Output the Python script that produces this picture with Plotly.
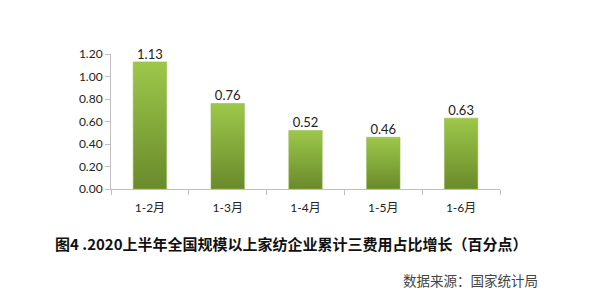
import plotly.graph_objects as go

categories = ["1-2月", "1-3月", "1-4月", "1-5月", "1-6月"]
values = [1.13, 0.76, 0.52, 0.46, 0.63]
value_labels = ["1.13", "0.76", "0.52", "0.46", "0.63"]
y_ticks = [0, 0.2, 0.4, 0.6, 0.8, 1.0, 1.2]
y_tick_labels = ["0.00", "0.20", "0.40", "0.60", "0.80", "1.00", "1.20"]

title_text = "图4 .2020上半年全国规模以上家纺企业累计三费用占比增长（百分点）"
source_text = "数据来源：国家统计局"

FONT = "Lato, 'Noto Sans CJK SC', sans-serif"
CJK = "'Noto Sans CJK SC', sans-serif"
BAR_W = 0.43

fig = go.Figure()
idx = list(range(len(categories)))
for i, v in zip(idx, values):
    fig.add_trace(go.Scatter(
        x=[i - BAR_W / 2, i + BAR_W / 2, i + BAR_W / 2, i - BAR_W / 2, i - BAR_W / 2],
        y=[0, 0, v, v, 0],
        mode="lines", line=dict(width=0.6, color="rgba(150,185,80,0.9)"),
        fill="toself",
        fillgradient=dict(type="vertical",
                          colorscale=[[0, "#6A8A2B"], [1, "#9CC84A"]]),
        hoverinfo="skip", showlegend=False,
    ))

fig.add_trace(go.Scatter(
    x=idx, y=values, mode="text", text=value_labels,
    textposition="top center", cliponaxis=False,
    textfont=dict(family=FONT, size=13, color="#222"),
    showlegend=False, hoverinfo="skip",
))

fig.update_layout(
    width=600, height=305,
    margin=dict(l=111, r=100, t=54, b=116),
    plot_bgcolor="white", paper_bgcolor="white",
    xaxis=dict(
        range=[-0.5, 4.5], tickmode="array", tickvals=idx, ticktext=categories,
        ticks="", showgrid=False, zeroline=False,
        showline=True, linecolor="#BFBFBF", linewidth=1,
        tickfont=dict(family=FONT, size=12, color="#222"),
        ticklabelstandoff=8,
        minor=dict(tickmode="array", tickvals=[-0.5, 0.5, 1.5, 2.5, 3.5, 4.5],
                   ticks="outside", ticklen=5, tickcolor="#BFBFBF", showgrid=False),
        fixedrange=True,
    ),
    yaxis=dict(
        range=[0, 1.2], tickmode="array", tickvals=y_ticks, ticktext=y_tick_labels,
        ticks="outside", ticklen=5, tickcolor="#BFBFBF",
        showgrid=False, zeroline=False,
        showline=True, linecolor="#BFBFBF", linewidth=1,
        tickfont=dict(family=FONT, size=12, color="#222"),
        fixedrange=True,
    ),
    annotations=[
        dict(text="<b>" + title_text + "</b>", xref="paper", yref="paper",
             x=0.463, y=-0.40, xanchor="center", yanchor="middle", showarrow=False,
             font=dict(family=CJK, size=15, color="#111")),
        dict(text=source_text, xref="paper", yref="paper",
             x=1.103, y=-0.674, xanchor="right", yanchor="middle", showarrow=False,
             font=dict(family=CJK, size=13.5, color="#444")),
    ],
)

fig.write_html("out.html")
